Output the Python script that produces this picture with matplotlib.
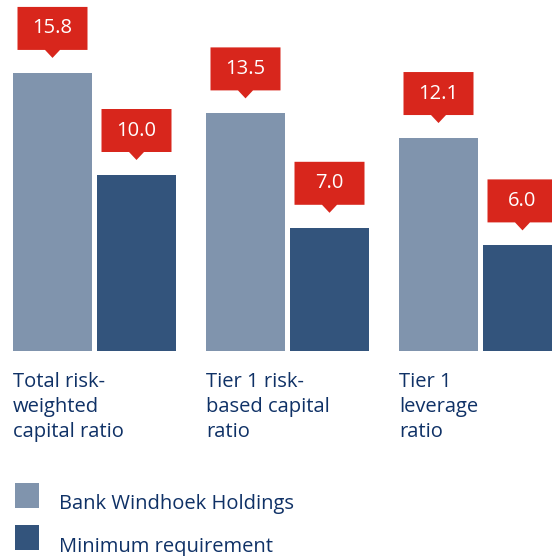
import matplotlib
matplotlib.use("Agg")
import matplotlib.pyplot as plt
from matplotlib.patches import Polygon, Rectangle
from matplotlib.transforms import IdentityTransform, ScaledTranslation

categories = ["Total risk-\nweighted\ncapital ratio",
              "Tier 1 risk-\nbased capital\nratio",
              "Tier 1\nleverage\nratio"]
bank_values = [15.8, 13.5, 12.1]
minimum_values = [10.0, 7.0, 6.0]
series_names = ["Bank Windhoek Holdings", "Minimum requirement"]

LIGHT = "#8094ad"
DARK = "#33547c"
RED = "#d8261c"
TEXT = "#0f3166"

plt.rcParams["font.family"] = ["Open Sans", "DejaVu Sans"]

W, H = 552, 556
fig = plt.figure(figsize=(W / 100, H / 100), dpi=100)

# layout in pixels
base_px = 351          # baseline from top
group_px = 193         # distance between groups
first_center_px = 94.5
px_per_unit = 17.6
bar_w = 79 / group_px
off = 42 / group_px

ax = fig.add_axes([0, (H - base_px) / H, 1, base_px / H])
ax.set_xlim(-first_center_px / group_px, (W - first_center_px) / group_px)
ax.set_ylim(0, base_px / px_per_unit)
ax.axis("off")

x = list(range(len(categories)))
ax.bar([i - off for i in x], bank_values, width=bar_w, color=LIGHT, label=series_names[0])
ax.bar([i + off for i in x], minimum_values, width=bar_w, color=DARK, label=series_names[1])


def callout(xc, top, text):
    # box with a small pointer, sized in pixels, anchored at the bar top
    tr = IdentityTransform() + ScaledTranslation(xc, top, ax.transData)
    verts = [(-35, 23), (-7.5, 23), (0, 15), (7.5, 23), (35, 23), (35, 66), (-35, 66)]
    ax.add_patch(Polygon(verts, closed=True, facecolor=RED, edgecolor="none",
                         transform=tr, clip_on=False))
    ax.text(0, 44.5, text, transform=tr, ha="center", va="center",
            color="white", fontsize=14.5)


for i in x:
    callout(i - off, bank_values[i], f"{bank_values[i]:.1f}")
    callout(i + off, minimum_values[i], f"{minimum_values[i]:.1f}")

for i, cat in enumerate(categories):
    ax.annotate(cat, xy=(i - off - bar_w / 2, 0), xycoords="data",
                xytext=(0, -21), textcoords="offset pixels",
                ha="left", va="top", color=TEXT, fontsize=14.5, linespacing=1.32,
                annotation_clip=False)

# legend drawn by hand: square + label per series
for k, (name, color) in enumerate(zip(series_names, [LIGHT, DARK])):
    sq_top = 483 + k * 42
    fig.add_artist(Rectangle((15, H - sq_top - 25), 24, 25, facecolor=color,
                             edgecolor="none", transform=IdentityTransform()))
    fig.text(59 / W, 1 - (509 + k * 43) / H, name, ha="left", va="baseline",
             color=TEXT, fontsize=14.5)

fig.savefig("out.png", dpi=100)
